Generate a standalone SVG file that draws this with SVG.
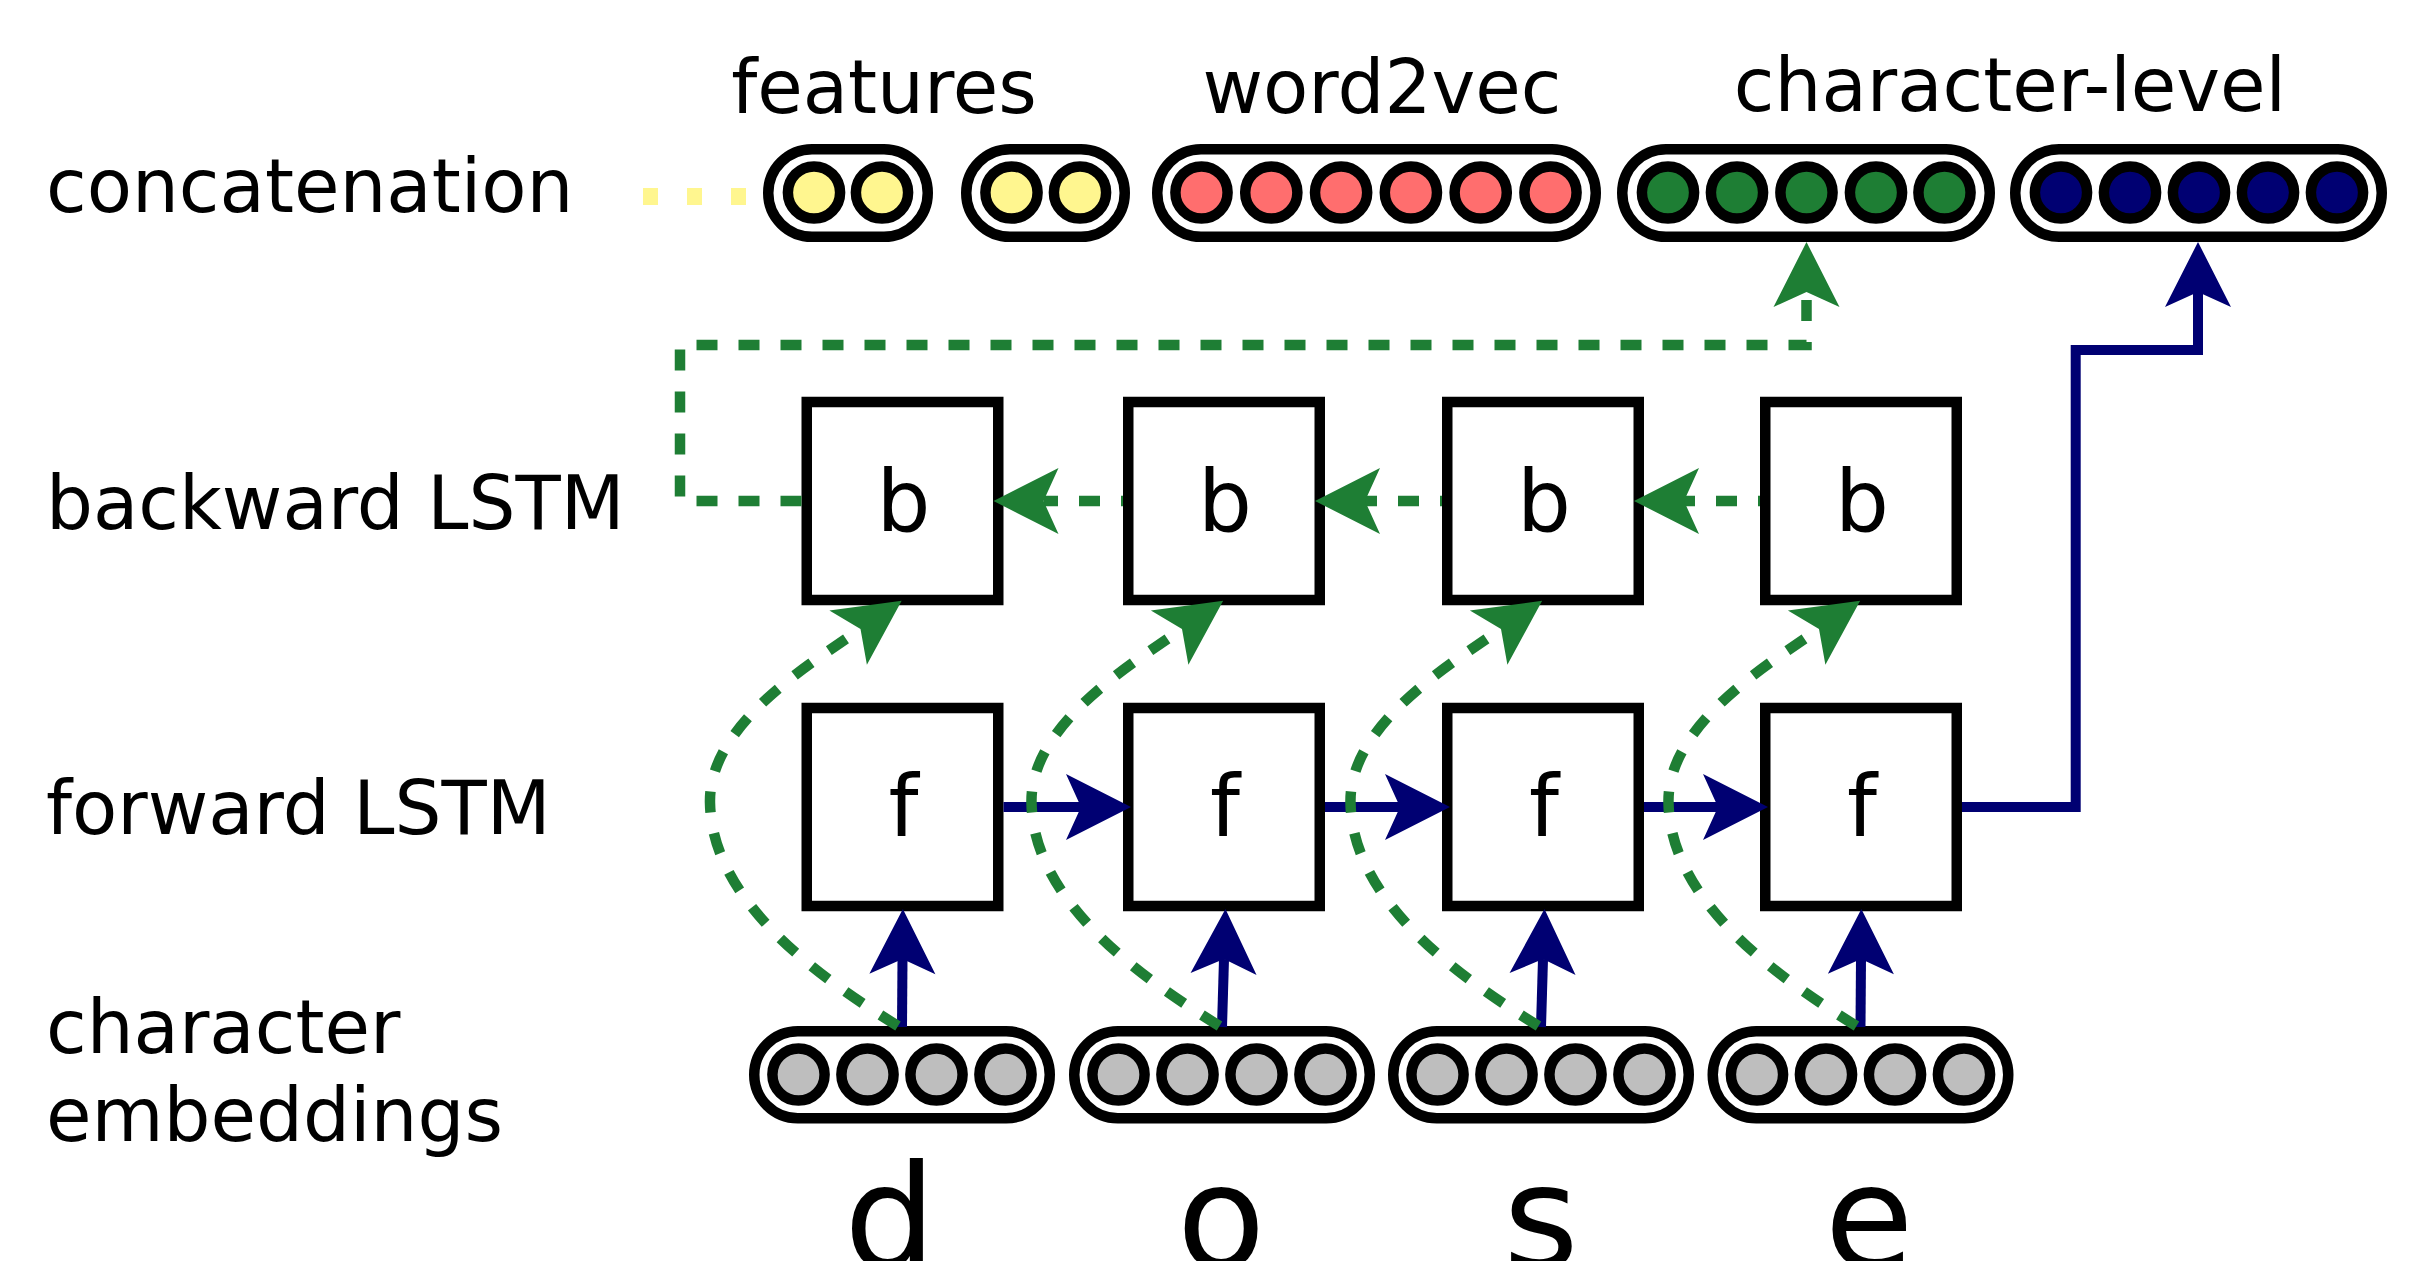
<svg xmlns="http://www.w3.org/2000/svg" width="2417" height="1261" viewBox="0 0 2417 1261">
<style>
text{font-family:"DejaVu Sans","Liberation Sans",sans-serif;fill:#000}
.lbl{font-size:74px}
.cell{font-size:85px;text-anchor:middle}
.chr{font-size:145px;text-anchor:middle}
.top{font-size:74px;text-anchor:middle}
.pill{fill:#fff;stroke:#000;stroke-width:10.5}
.box{fill:#fff;stroke:#000;stroke-width:10.5}
.dot{stroke:#000;stroke-width:10.5}
.y{fill:#fff68f}.r{fill:#ff6e6e}.g{fill:#1e7e34}.n{fill:#000072}.e{fill:#bebebe}
.blue{fill:none;stroke:#000072;stroke-width:10}
.green{fill:none;stroke:#1e7e34;stroke-width:10.5;stroke-dasharray:21 21}
</style>
<defs>
<marker id="ab" markerUnits="userSpaceOnUse" orient="auto" refX="15" refY="0" markerWidth="80" markerHeight="80" overflow="visible"><path d="M0,-33 L65,0 L0,33 L15,0 Z" fill="#000072"/></marker>
<marker id="ag" markerUnits="userSpaceOnUse" orient="auto" refX="15" refY="0" markerWidth="80" markerHeight="80" overflow="visible"><path d="M0,-33 L65,0 L0,33 L15,0 Z" fill="#1e7e34"/></marker>
</defs>

<g id="labels">
<text class="lbl" x="46" y="212">concatenation</text>
<text class="lbl" x="46" y="529">backward LSTM</text>
<text class="lbl" x="46" y="834">forward LSTM</text>
<text class="lbl" x="46" y="1053">character</text>
<text class="lbl" x="46" y="1141">embeddings</text>
<text class="top" x="884" y="113">features</text>
<text class="top" x="1382" y="113">word2vec</text>
<text class="top" x="2010" y="111">character-level</text>
</g>

<g id="concat-features-1">
<rect class="pill" x="768.25" y="149.25" width="159.5" height="87.5" rx="43.75"/>
<circle class="dot y" cx="814" cy="192.5" r="26.1"/><circle class="dot y" cx="882" cy="192.5" r="26.1"/>
</g>
<g id="concat-features-2">
<rect class="pill" x="966.25" y="149.25" width="158.5" height="87.5" rx="43.75"/>
<circle class="dot y" cx="1011.5" cy="192.5" r="26.1"/><circle class="dot y" cx="1080" cy="192.5" r="26.1"/>
</g>
<g id="concat-word2vec">
<rect class="pill" x="1157.25" y="149.25" width="438.5" height="87.5" rx="43.75"/>
<circle class="dot r" cx="1201.5" cy="192.5" r="26.1"/><circle class="dot r" cx="1271.3" cy="192.5" r="26.1"/><circle class="dot r" cx="1341.1" cy="192.5" r="26.1"/><circle class="dot r" cx="1410.9" cy="192.5" r="26.1"/><circle class="dot r" cx="1480.7" cy="192.5" r="26.1"/><circle class="dot r" cx="1550.5" cy="192.5" r="26.1"/>
</g>
<g id="concat-char-backward">
<rect class="pill" x="1622.25" y="149.25" width="367.5" height="87.5" rx="43.75"/>
<circle class="dot g" cx="1668" cy="192.5" r="26.1"/><circle class="dot g" cx="1737" cy="192.5" r="26.1"/><circle class="dot g" cx="1806.5" cy="192.5" r="26.1"/><circle class="dot g" cx="1876" cy="192.5" r="26.1"/><circle class="dot g" cx="1944.5" cy="192.5" r="26.1"/>
</g>
<g id="concat-char-forward">
<rect class="pill" x="2015.25" y="149.25" width="366.5" height="87.5" rx="43.75"/>
<circle class="dot n" cx="2061" cy="192.5" r="26.1"/><circle class="dot n" cx="2130" cy="192.5" r="26.1"/><circle class="dot n" cx="2199" cy="192.5" r="26.1"/><circle class="dot n" cx="2268" cy="192.5" r="26.1"/><circle class="dot n" cx="2337" cy="192.5" r="26.1"/>
</g>

<g id="b1"><rect class="box" x="806.75" y="402" width="191.5" height="198"/><text class="cell" x="903.5" y="531">b</text></g>
<g id="b2"><rect class="box" x="1128.25" y="402" width="191.5" height="198"/><text class="cell" x="1225" y="531">b</text></g>
<g id="b3"><rect class="box" x="1447.25" y="402" width="191.5" height="198"/><text class="cell" x="1544" y="531">b</text></g>
<g id="b4"><rect class="box" x="1765.25" y="402" width="191.5" height="198"/><text class="cell" x="1862" y="531">b</text></g>

<g id="f1"><rect class="box" x="806.75" y="708" width="191.5" height="198"/><text class="cell" x="903.5" y="836">f</text></g>
<g id="f2"><rect class="box" x="1128.25" y="708" width="191.5" height="198"/><text class="cell" x="1225" y="836">f</text></g>
<g id="f3"><rect class="box" x="1447.25" y="708" width="191.5" height="198"/><text class="cell" x="1544" y="836">f</text></g>
<g id="f4"><rect class="box" x="1765.25" y="708" width="191.5" height="198"/><text class="cell" x="1862" y="836">f</text></g>

<g id="emb-d">
<rect class="pill" x="754.25" y="1031.25" width="295.5" height="87" rx="43.5"/>
<circle class="dot e" cx="798.5" cy="1074.5" r="26.1"/><circle class="dot e" cx="867.5" cy="1074.5" r="26.1"/><circle class="dot e" cx="936.5" cy="1074.5" r="26.1"/><circle class="dot e" cx="1005.5" cy="1074.5" r="26.1"/>
<text class="chr" x="890" y="1268">d</text>
</g>
<g id="emb-o">
<rect class="pill" x="1074.25" y="1031.25" width="295.5" height="87" rx="43.5"/>
<circle class="dot e" cx="1118.5" cy="1074.5" r="26.1"/><circle class="dot e" cx="1187.5" cy="1074.5" r="26.1"/><circle class="dot e" cx="1256.5" cy="1074.5" r="26.1"/><circle class="dot e" cx="1325.5" cy="1074.5" r="26.1"/>
<text class="chr" x="1221" y="1268">o</text>
</g>
<g id="emb-s">
<rect class="pill" x="1393.25" y="1031.25" width="295.5" height="87" rx="43.5"/>
<circle class="dot e" cx="1437.5" cy="1074.5" r="26.1"/><circle class="dot e" cx="1506.5" cy="1074.5" r="26.1"/><circle class="dot e" cx="1575.5" cy="1074.5" r="26.1"/><circle class="dot e" cx="1644.5" cy="1074.5" r="26.1"/>
<text class="chr" x="1541" y="1268">s</text>
</g>
<g id="emb-e">
<rect class="pill" x="1712.75" y="1031.25" width="295.5" height="87" rx="43.5"/>
<circle class="dot e" cx="1757" cy="1074.5" r="26.1"/><circle class="dot e" cx="1826" cy="1074.5" r="26.1"/><circle class="dot e" cx="1895" cy="1074.5" r="26.1"/><circle class="dot e" cx="1964" cy="1074.5" r="26.1"/>
<text class="chr" x="1869" y="1268">e</text>
</g>

<g id="connectors">
<path d="M643 196.5 H746" fill="none" stroke="#fff68f" stroke-width="17" stroke-dasharray="15 29"/>
<path class="blue" d="M902 1027 L902.5 959" marker-end="url(#ab)"/>
<path class="blue" d="M1222 1027 L1224 959" marker-end="url(#ab)"/>
<path class="blue" d="M1541 1027 L1543 959" marker-end="url(#ab)"/>
<path class="blue" d="M1860.5 1027 L1861 959" marker-end="url(#ab)"/>
<path class="blue" d="M1003.5 807 H1081" marker-end="url(#ab)"/>
<path class="blue" d="M1325 807 H1400" marker-end="url(#ab)"/>
<path class="blue" d="M1644 807 H1718" marker-end="url(#ab)"/>
<path class="blue" d="M1962 807 H2075.7 V350 H2198 V292" marker-end="url(#ab)"/>
<path class="green" d="M1123 501 H1043.5" stroke-dashoffset="19" marker-end="url(#ag)"/>
<path class="green" d="M1442 501 H1365" stroke-dashoffset="19" marker-end="url(#ag)"/>
<path class="green" d="M1760 501 H1684" stroke-dashoffset="19" marker-end="url(#ag)"/>
<path class="green" d="M801.5 501 H680 V345 H1806.5 V292" marker-end="url(#ag)"/>
<path class="green" d="M898 1026 C815 975 712 900 710 803 C708 725 811.1 663.2 860.5 629.1" marker-end="url(#ag)"/>
<path class="green" d="M1219.5 1026 C1136.5 975 1033.5 900 1031.5 803 C1029.5 725 1132.6 663.2 1182 629.1" marker-end="url(#ag)"/>
<path class="green" d="M1538.5 1026 C1455.5 975 1352.5 900 1350.5 803 C1348.5 725 1451.6 663.2 1501 629.1" marker-end="url(#ag)"/>
<path class="green" d="M1856.5 1026 C1773.5 975 1670.5 900 1668.5 803 C1666.5 725 1769.6 663.2 1819 629.1" marker-end="url(#ag)"/>
</g>
</svg>
